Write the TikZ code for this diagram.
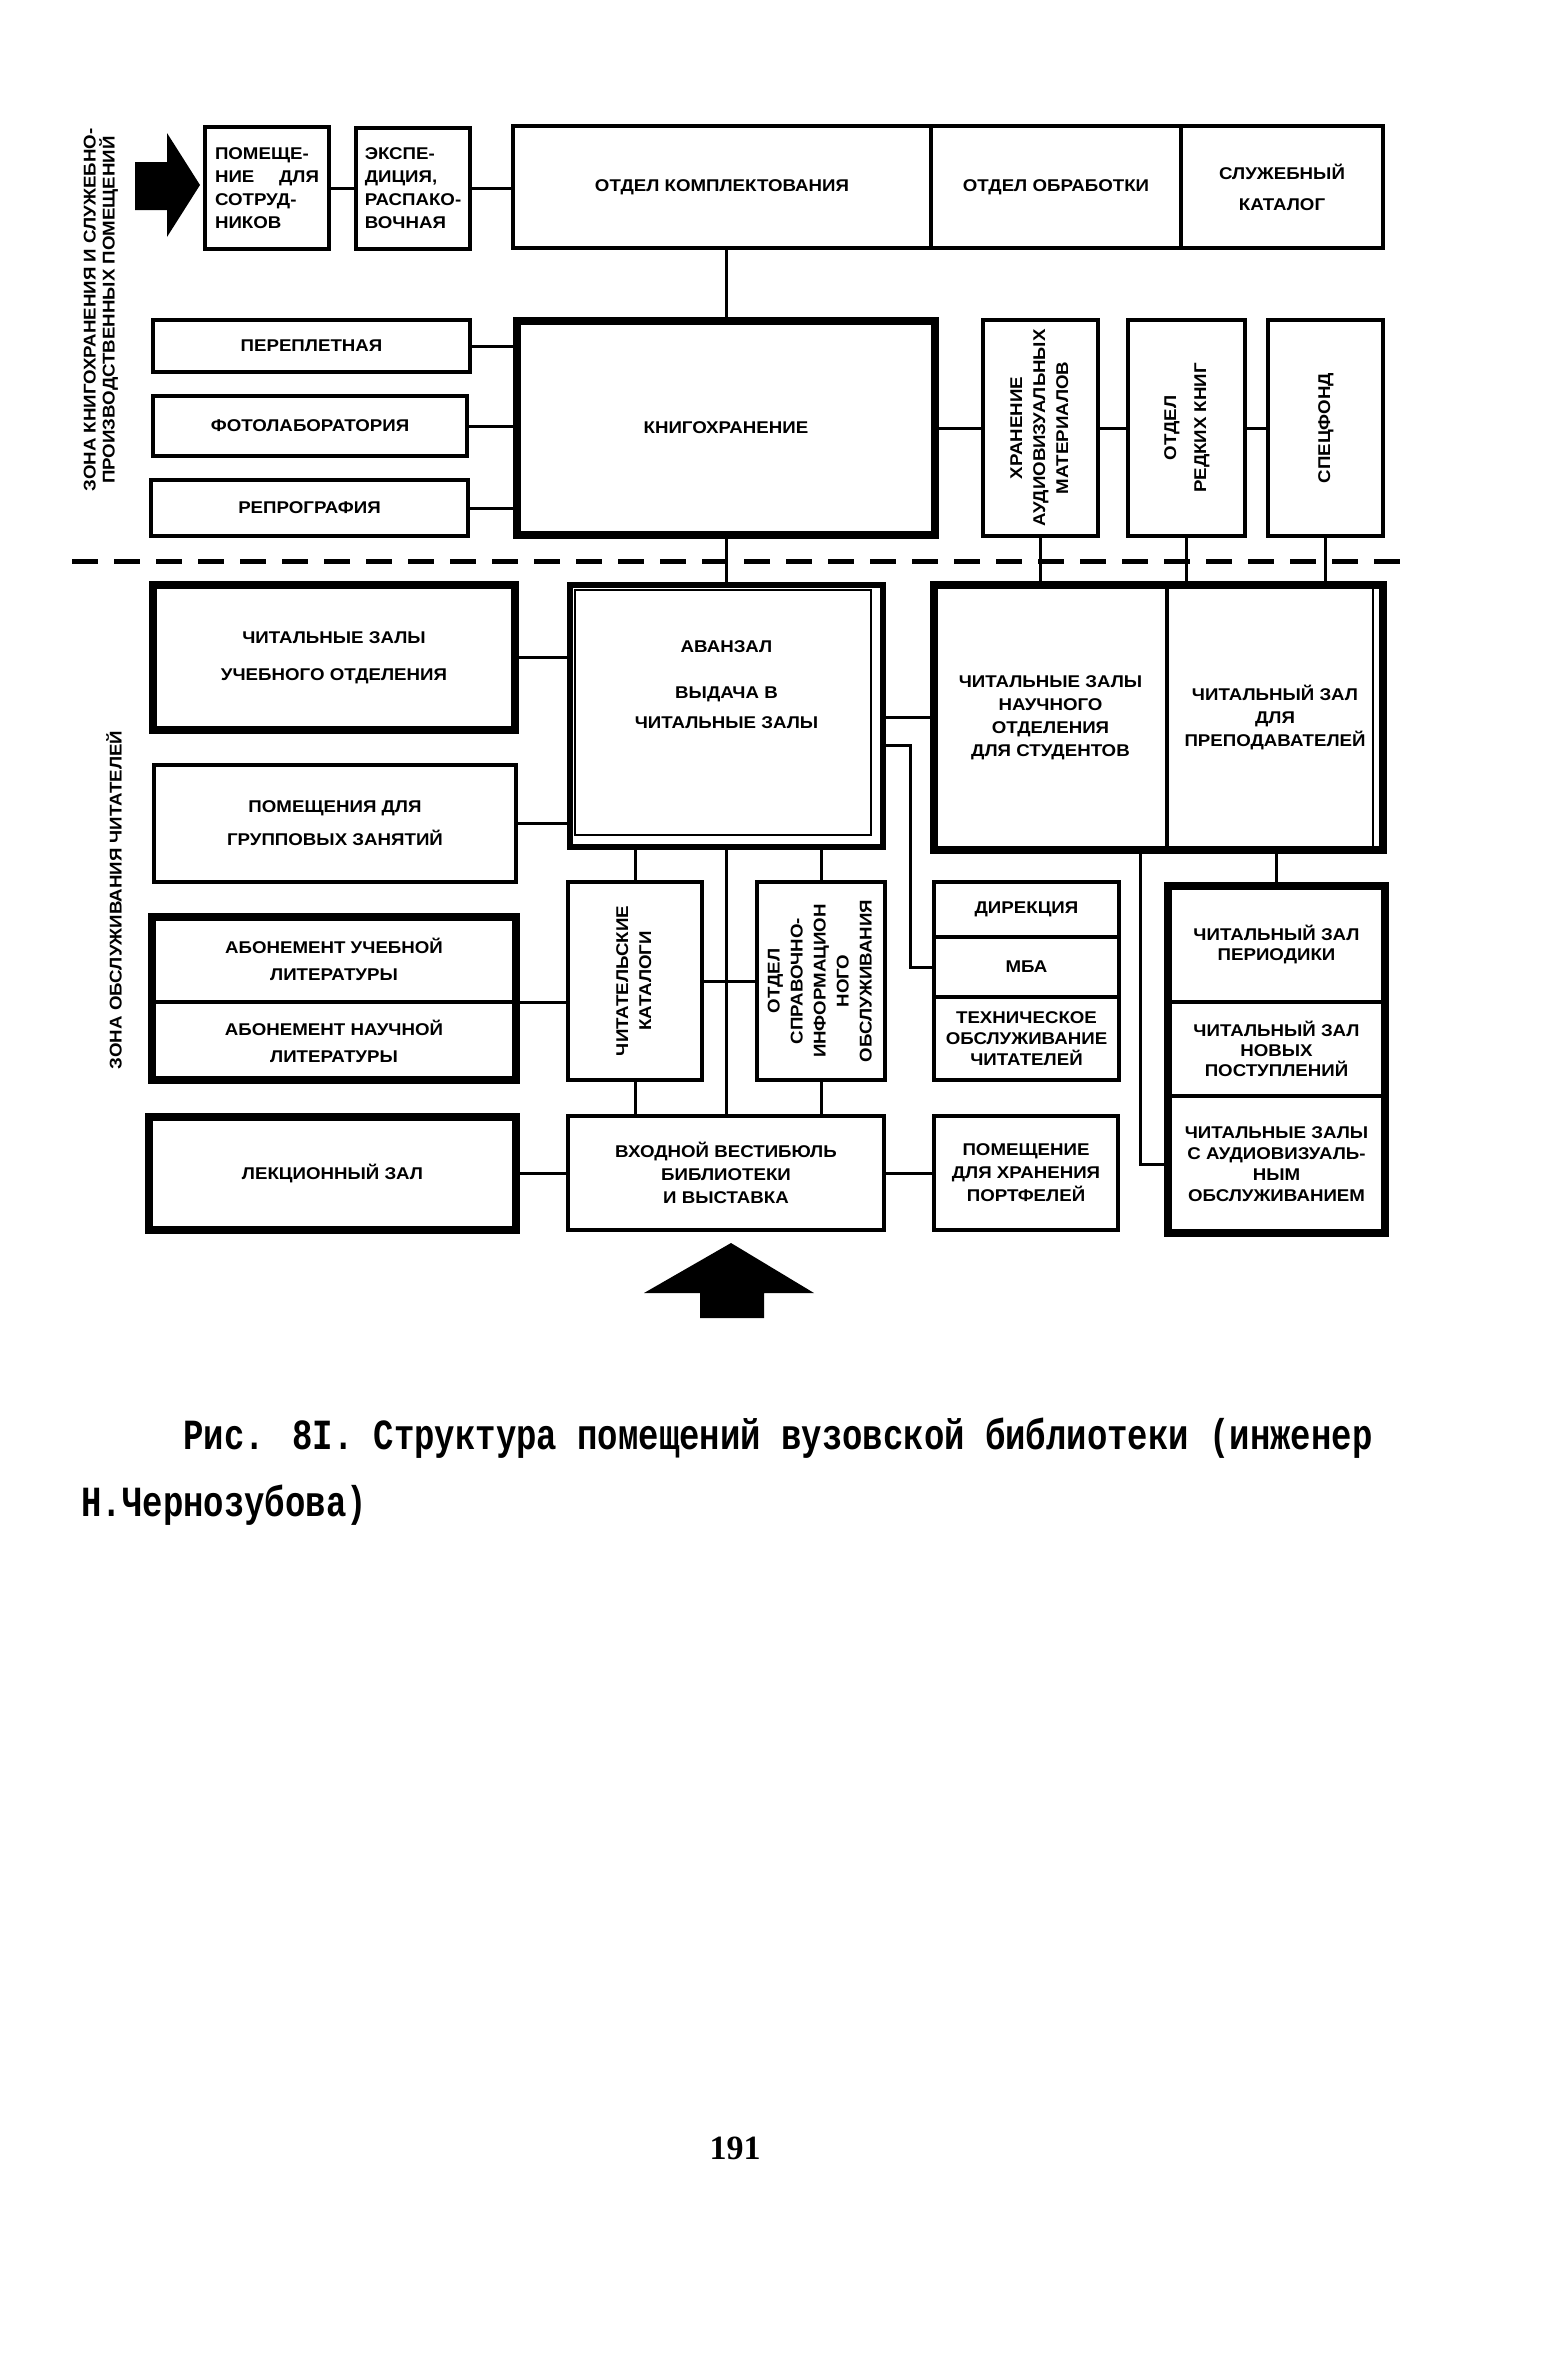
\documentclass[tikz,border=0pt]{standalone}
\usepackage{fontspec}
\usepackage{graphicx}
\usetikzlibrary{calc}
\newfontfamily\roomfont[FakeStretch=1.1]{Liberation Sans}
\newfontfamily\capfont[FakeStretch=0.79]{Liberation Mono}
\newfontfamily\folio{Liberation Serif}
\newcommand\vtext[1]{\rotatebox{90}{\begin{tabular}{@{}c@{}}#1\end{tabular}}}
\tikzset{
  room/.style 2 args={draw, line width=4pt, outer sep=0pt, inner sep=3pt,
    anchor=north west, minimum width=#1, minimum height=#2, align=center,
    font=\roomfont\bfseries\fontsize{17}{23}\selectfont},
  hall/.style={line width=7.5pt},
  link/.style={line width=3pt},
  zone/.style={rotate=90, align=center, font=\roomfont\bfseries\fontsize{17}{19}\selectfont},
}

\begin{document}
\begin{tikzpicture}[x=1pt,y=-1pt]
\useasboundingbox (0,0) rectangle (1547,2353);
\fill[white] (0,0) rectangle (1547,2353);

\node[room={124}{122}, align=left, text width=104pt] (staff) at (205,127) {ПОМЕЩЕ-\\НИЕ\hfill ДЛЯ\\СОТРУД-\\НИКОВ};
\node[room={114}{121}, align=left] (unpack) at (356,128) {ЭКСПЕ-\\ДИЦИЯ,\\РАСПАКО-\\ВОЧНАЯ};
\node[room={418}{122}] (acq) at (513,126) {ОТДЕЛ КОМПЛЕКТОВАНИЯ};
\node[room={250}{122}] (proc) at (acq.north east) {ОТДЕЛ ОБРАБОТКИ};
\node[room={202}{122}] (scat) at (proc.north east) {СЛУЖЕБНЫЙ\\[8pt]КАТАЛОГ};

\node[room={317}{52}] (bind) at (153,320) {ПЕРЕПЛЕТНАЯ};
\node[room={314}{60}] (photo) at (153,396) {ФОТОЛАБОРАТОРИЯ};
\node[room={317}{56}] (repro) at (151,480) {РЕПРОГРАФИЯ};
\node[room={418}{214}, hall] (store) at (517,321) {КНИГОХРАНЕНИЕ};
\node[room={115}{216}] (avmat) at (983,320) {\vtext{ХРАНЕНИЕ\\АУДИОВИЗУАЛЬНЫХ\\МАТЕРИАЛОВ}};
\node[room={117}{216}] (rare) at (1128,320) {\vtext{ОТДЕЛ\\[7pt]РЕДКИХ КНИГ}};
\node[room={115}{216}] (spec) at (1268,320) {\vtext{СПЕЦФОНД}};

\draw[line width=5pt, dash pattern=on 26pt off 16pt] (72,561) -- (1410,561);

\node[room={362}{145}, hall] (study) at (153,585) {ЧИТАЛЬНЫЕ ЗАЛЫ\\[14pt]УЧЕБНОГО ОТДЕЛЕНИЯ};
\node[room={362}{117}] (group) at (154,765) {ПОМЕЩЕНИЯ ДЛЯ\\[10pt]ГРУППОВЫХ ЗАНЯТИЙ};
\node[room={313}{262}, line width=6pt] (lobby) at (570,585) {АВАНЗАЛ\\[23pt]ВЫДАЧА В\\[7pt]ЧИТАЛЬНЫЕ ЗАЛЫ\\[40pt]\mbox{}};
\draw[line width=2pt] ([shift={(5pt,-5pt)}]lobby.north west) rectangle ([shift={(-12pt,12pt)}]lobby.south east);
\node[room={233}{265}] (sci) at (934,585) {ЧИТАЛЬНЫЕ ЗАЛЫ\\НАУЧНОГО\\ОТДЕЛЕНИЯ\\ДЛЯ СТУДЕНТОВ};
\node[room={216}{265}] (prof) at (sci.north east) {ЧИТАЛЬНЫЙ ЗАЛ\\ДЛЯ\\ПРЕПОДАВАТЕЛЕЙ};
\draw[hall] (sci.north west) rectangle (prof.south east);
\draw[line width=2pt] ([xshift=-10pt]prof.north east) -- ([xshift=-10pt]prof.south east);

\node[room={134}{198}] (catal) at (568,882) {\vtext{ЧИТАТЕЛЬСКИЕ\\КАТАЛОГИ}};
\node[room={128}{198}] (refd) at (757,882) {\vtext{ОТДЕЛ\\СПРАВОЧНО-\\ИНФОРМАЦИОН\\НОГО\\ОБСЛУЖИВАНИЯ}};
\node[room={364}{85}] (lend1) at (152,917) {АБОНЕМЕНТ УЧЕБНОЙ\\[4pt]ЛИТЕРАТУРЫ};
\node[room={364}{78}] (lend2) at (lend1.south west) {АБОНЕМЕНТ НАУЧНОЙ\\[4pt]ЛИТЕРАТУРЫ};
\draw[hall] (lend1.north west) rectangle (lend2.south east);
\node[room={185}{55}] (dir) at (934,882) {ДИРЕКЦИЯ};
\node[room={185}{60}] (ill) at (dir.south west) {МБА};
\node[room={185}{83}] (tech) at (ill.south west) {ТЕХНИЧЕСКОЕ\\[-2pt]ОБСЛУЖИВАНИЕ\\[-2pt]ЧИТАТЕЛЕЙ};
\node[room={217}{116}] (period) at (1168,886) {ЧИТАЛЬНЫЙ ЗАЛ\\[-3pt]ПЕРИОДИКИ};
\node[room={217}{94}] (newacq) at (period.south west) {ЧИТАЛЬНЫЙ ЗАЛ\\[-3pt]НОВЫХ\\[-3pt]ПОСТУПЛЕНИЙ};
\node[room={217}{137}] (avhall) at (newacq.south west) {ЧИТАЛЬНЫЕ ЗАЛЫ\\[-2pt]С АУДИОВИЗУАЛЬ-\\[-2pt]НЫМ\\[-2pt]ОБСЛУЖИВАНИЕМ};
\draw[hall] (period.north west) rectangle (avhall.south east);

\node[room={367}{113}, hall] (lecture) at (149,1117) {ЛЕКЦИОННЫЙ ЗАЛ};
\node[room={316}{114}] (vest) at (568,1116) {ВХОДНОЙ ВЕСТИБЮЛЬ\\БИБЛИОТЕКИ\\И ВЫСТАВКА};
\node[room={184}{114}] (bags) at (934,1116) {ПОМЕЩЕНИЕ\\ДЛЯ ХРАНЕНИЯ\\ПОРТФЕЛЕЙ};

\node[zone] (zone1) at (101,310) {ЗОНА КНИГОХРАНЕНИЯ И СЛУЖЕБНО-\\ПРОИЗВОДСТВЕННЫХ ПОМЕЩЕНИЙ};
\node[zone] (zone2) at (114,900) {ЗОНА ОБСЛУЖИВАНИЯ ЧИТАТЕЛЕЙ};

\fill (135,162) -- (167,162) -- (167,133) -- (200,185) -- (167,237) -- (167,210) -- (135,210) -- cycle;
\fill (700,1318) -- (700,1293) -- (644,1293) -- (731,1243) -- (814,1293) -- (764,1293) -- (764,1318) -- cycle;

\draw[link] (staff.east) -- (staff.east -| unpack.west);
\draw[link] (unpack.east) -- (unpack.east -| acq.west);
\draw[link] (store.north) -- (store.north |- acq.south);
\foreach \r in {bind,photo,repro} \draw[link] (\r.east) -- (\r.east -| store.west);
\draw[link] (store.east) -- (store.east -| avmat.west);
\draw[link] (avmat.east) -- (avmat.east -| rare.west);
\draw[link] (rare.east) -- (rare.east -| spec.west);
\draw[link] (store.south) -- (store.south |- lobby.north);
\draw[link] (avmat.south) -- (avmat.south |- sci.north);
\foreach \r in {rare,spec} \draw[link] (\r.south) -- (\r.south |- prof.north);
\foreach \r in {study,group} \draw[link] (\r.east) -- (\r.east -| lobby.west);
\draw[link] (sci.west) -- (sci.west -| lobby.east);
\draw[link] ([yshift=-29pt]lobby.east) -| ([xshift=-24pt]ill.west) -- (ill.west);
\foreach \r in {catal,refd} \draw[link] (\r.north) -- (\r.north |- lobby.south);
\draw[link] (lobby.south) -- (lobby.south |- vest.north);
\draw[link] (lend1.south east) -- (lend1.south east -| catal.west);
\draw[link] (catal.east) -- (catal.east -| refd.west);
\foreach \r in {catal,refd} \draw[link] (\r.south) -- (\r.south |- vest.north);
\draw[link] (lecture.east) -- (lecture.east -| vest.west);
\draw[link] (vest.east) -- (vest.east -| bags.west);
\draw[link] (period.north) -- (period.north |- prof.south);
\draw[link] ([xshift=90pt]sci.south) |- (avhall.west);

\node[anchor=base west, font=\capfont\bfseries\fontsize{43}{60}\selectfont] (cap1) at (180,1449) {Рис. 8I. Структура помещений вузовской библиотеки (инженер};
\node[anchor=base west, font=\capfont\bfseries\fontsize{43}{60}\selectfont] (cap2) at (78,1516) {Н.Чернозубова)};
\node[font=\folio\bfseries\fontsize{34}{40}\selectfont] (pagenum) at (735,2148) {191};
\end{tikzpicture}
\end{document}
